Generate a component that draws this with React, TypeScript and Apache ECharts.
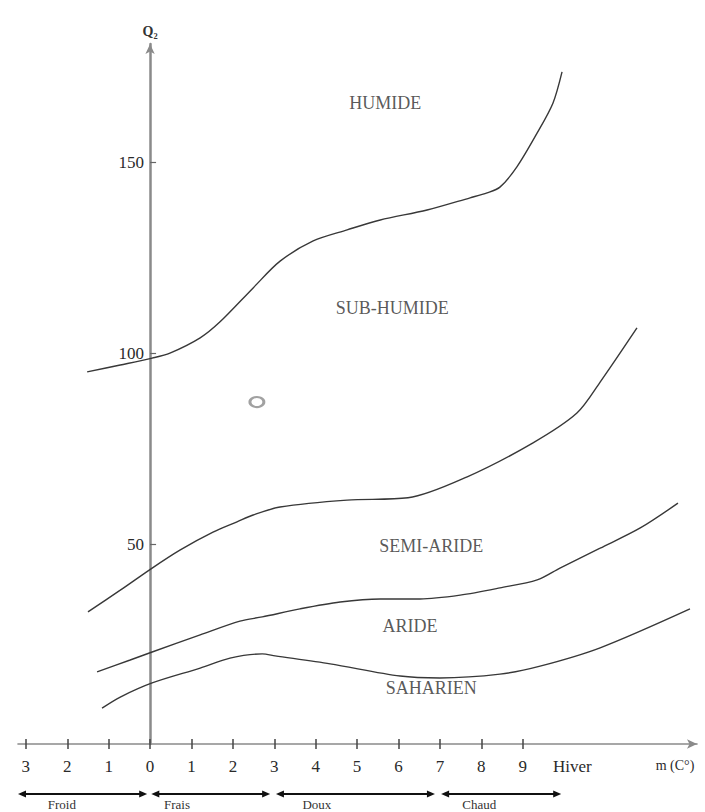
import React, { useEffect, useRef } from "react";
import * as echarts from "echarts";

// ---- axes ----
const X_MIN = -3.19;
const X_MAX = 13.21;
const Y_MIN = -2.4;
const Y_MAX = 181;
const xTickValues = [-3, -2, -1, 0, 1, 2, 3, 4, 5, 6, 7, 8, 9];
const hiverAt = 10.2;
const unitAt = 12.68;
const yTickValues = [50, 100, 150];

// ---- climate limits (m °C, Q2) ----
const humideLimit = [
  [-1.52, 95.1], [-0.72, 96.9], [0.05, 98.7], [0.48, 100.0], [1.21, 104.0],
  [1.69, 108.2], [2.49, 117.1], [3.14, 124.1], [3.94, 129.4], [4.76, 132.3],
  [5.56, 134.9], [6.69, 137.5], [7.73, 140.7], [8.14, 142.0], [8.45, 143.5],
  [8.86, 148.8], [9.35, 157.7], [9.73, 165.5], [9.95, 173.7],
];
const subHumideLimit = [
  [-1.5, 32.2], [-0.72, 37.9], [0.05, 43.7], [0.72, 48.4], [1.52, 53.1],
  [2.1, 55.8], [2.49, 57.6], [3.14, 59.7], [4.76, 61.5], [6.23, 62.1],
  [7.66, 67.6], [9.25, 76.5], [10.31, 84.3], [10.87, 92.4], [11.76, 106.6],
];
const semiAridLimit = [
  [-1.28, 16.5], [-0.48, 19.6], [0.05, 21.7], [1.21, 26.2], [2.17, 29.8],
  [2.71, 30.9], [3.62, 33.0], [4.59, 34.8], [5.56, 35.6], [6.52, 35.6],
  [7.49, 36.6], [8.45, 38.5], [9.35, 40.6], [9.9, 43.7], [10.87, 48.9],
  [11.84, 54.2], [12.75, 60.7],
];
const aridLimit = [
  [-1.16, 7.0], [-0.72, 9.9], [0.05, 13.6], [1.21, 17.5], [1.93, 20.1],
  [2.71, 21.2], [3.02, 20.7], [4.35, 18.6], [6.04, 15.4], [7.0, 14.9],
  [8.45, 15.9], [9.42, 18.0], [10.87, 22.8], [13.04, 33.0],
];

// ---- region labels ----
const regionNames = ["HUMIDE", "SUB-HUMIDE", "SEMI-ARIDE", "ARIDE", "SAHARIEN"];
const regionX = [5.68, 5.85, 6.79, 6.28, 6.79];
const regionQ = [165.5, 111.8, 49.5, 28.5, 12.3];

// ---- station ----
const stationPoint = [[2.58, 87.2]];

// ---- winter temperature classes ----
const zoneNames = ["Froid", "Frais", "Doux", "Chaud"];
const zoneStart = [-3.19, 0.03, 3.04, 7.03];
const zoneEnd = [-0.07, 2.9, 6.88, 9.93];
const zoneLabelX = [-2.13, 0.65, 4.03, 7.95];

const SERIF = "'Liberation Serif', 'Times New Roman', serif";
const LINE_COLOR = "#383838";
const GRID_LEFT = 18;
const GRID_RIGHT = 8;
const CHART_W = 705;

export default function App() {
  const ref = useRef<HTMLDivElement>(null);

  useEffect(() => {
    document.body.style.margin = "0";
    if (!ref.current) return;
    const chart = echarts.init(ref.current, null, { renderer: "svg" });

    // y axis sits at m = 0: shift it from the grid's left edge by the scale's own ratio
    const gridW = CHART_W - GRID_LEFT - GRID_RIGHT;
    const zeroOffset = ((0 - X_MIN) / (X_MAX - X_MIN)) * gridW;

    const limitSeries = [humideLimit, subHumideLimit, semiAridLimit, aridLimit].map((d, i) => ({
      type: "line",
      name: "limit" + i,
      data: d,
      showSymbol: false,
      smooth: 0.3,
      silent: true,
      lineStyle: { color: LINE_COLOR, width: 1.4 },
      z: 3,
    }));

    const option: any = {
      animation: false,
      backgroundColor: "#ffffff",
      grid: {
        left: GRID_LEFT,
        right: GRID_RIGHT,
        top: 44,
        bottom: 68,
        containLabel: false,
        outerBoundsMode: "none",
      },
      xAxis: [
        {
          type: "value",
          min: X_MIN,
          max: X_MAX,
          position: "bottom",
          axisLine: {
            onZero: false,
            lineStyle: { color: "#8a8a8a", width: 1.6 },
            symbol: ["none", "arrow"],
            symbolSize: [7, 10],
          },
          axisTick: {
            show: true,
            length: 5,
            customValues: xTickValues,
            lineStyle: { color: "#444", width: 1.5 },
          },
          axisLabel: {
            show: true,
            margin: 14,
            customValues: [...xTickValues, hiverAt, unitAt],
            fontFamily: SERIF,
            fontSize: 17,
            color: "#2a2a2a",
            formatter: (v: number) => {
              if (v > 12) return "{u|m (C°)}";
              if (v > 10) return "Hiver";
              return String(Math.abs(Math.round(v)));
            },
            rich: { u: { fontFamily: SERIF, fontSize: 14, color: "#2a2a2a" } },
          },
          splitLine: { show: false },
        },
        {
          type: "value",
          min: X_MIN,
          max: X_MAX,
          position: "bottom",
          offset: 0,
          axisLine: { show: false, onZero: false },
          axisTick: {
            show: true,
            inside: true,
            length: 5,
            customValues: xTickValues,
            lineStyle: { color: "#444", width: 1.5 },
          },
          axisLabel: { show: false },
          splitLine: { show: false },
        },
      ],
      yAxis: {
        type: "value",
        min: Y_MIN,
        max: Y_MAX,
        position: "left",
        offset: -zeroOffset,
        name: "Q₂",
        nameLocation: "end",
        nameGap: 6,
        nameTextStyle: { fontFamily: SERIF, fontSize: 14, fontWeight: "bold", color: "#333" },
        axisLine: {
          show: true,
          onZero: false,
          lineStyle: { color: "#8a8a8a", width: 2.5 },
          symbol: ["none", "arrow"],
          symbolSize: [7, 10],
        },
        axisTick: {
          show: true,
          inside: true,
          length: 6,
          customValues: yTickValues,
          lineStyle: { color: "#666", width: 1.2 },
        },
        axisLabel: {
          show: true,
          margin: 6,
          customValues: yTickValues,
          fontFamily: SERIF,
          fontSize: 17,
          color: "#2a2a2a",
        },
        splitLine: { show: false },
      },
      series: [
        ...limitSeries,
        {
          type: "scatter",
          name: "regions",
          data: regionNames.map((n, i) => ({ name: n, value: [regionX[i], regionQ[i]] })),
          symbolSize: 0,
          silent: true,
          label: {
            show: true,
            position: "inside",
            formatter: "{b}",
            fontFamily: SERIF,
            fontSize: 18,
            color: "#2e2e2e",
          },
          z: 4,
        },
        {
          type: "scatter",
          name: "station",
          data: stationPoint,
          symbol: "circle",
          symbolSize: [14, 10],
          silent: true,
          itemStyle: { color: "rgba(0,0,0,0)", borderColor: "#8a8a8a", borderWidth: 2.5 },
          z: 5,
        },
        {
          type: "custom",
          name: "zones",
          clip: false,
          silent: true,
          data: zoneNames.map((_, i) => [zoneStart[i], zoneEnd[i]]),
          encode: { x: [0, 1], y: 1 },
          renderItem: (params: any, api: any) => {
            const i = params.dataIndex;
            const a = api.coord([zoneStart[i], Y_MIN]);
            const b = api.coord([zoneEnd[i], Y_MIN]);
            const t = api.coord([zoneLabelX[i], Y_MIN]);
            const y = a[1] + 50;
            const h = 8;
            const w = 3.5;
            return {
              type: "group",
              children: [
                {
                  type: "line",
                  shape: { x1: a[0] + h - 1, y1: y, x2: b[0] - h + 1, y2: y },
                  style: { stroke: "#111", lineWidth: 2 },
                },
                {
                  type: "polygon",
                  shape: { points: [[a[0], y], [a[0] + h, y - w], [a[0] + h, y + w]] },
                  style: { fill: "#111" },
                },
                {
                  type: "polygon",
                  shape: { points: [[b[0], y], [b[0] - h, y - w], [b[0] - h, y + w]] },
                  style: { fill: "#111" },
                },
                {
                  type: "text",
                  style: {
                    text: zoneNames[i],
                    x: t[0],
                    y: y + 10,
                    align: "center",
                    verticalAlign: "middle",
                    fontFamily: SERIF,
                    fontSize: 13,
                    fill: "#333",
                  },
                },
              ],
            };
          },
          z: 5,
        },
      ],
    };

    chart.setOption(option);
    return () => chart.dispose();
  }, []);

  return <div ref={ref} style={{ width: CHART_W, height: 812 }} />;
}
